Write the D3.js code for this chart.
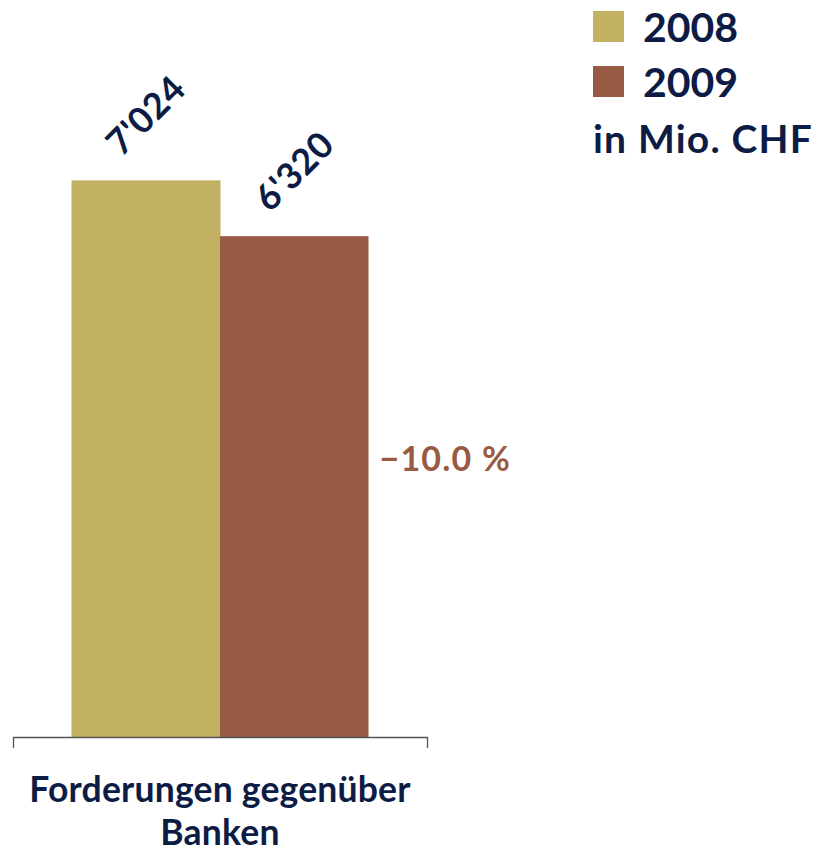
<!DOCTYPE html>
<html>
<head>
<meta charset="utf-8">
<script src="https://cdn.jsdelivr.net/npm/d3@7"></script>
<style>
  html, body { margin: 0; padding: 0; background: #fff; }
  svg { display: block; font-family: Lato, "Open Sans", sans-serif; font-weight: 700; }
</style>
</head>
<body>
<svg id="chart" width="821" height="855"></svg>
<script>
const categories = ["Forderungen gegenüber Banken"];
const categoryLines = [["Forderungen gegenüber", "Banken"]];
const seriesNames = ["2008", "2009"];
const values2008 = [7024];
const values2009 = [6320];
const valueLabels2008 = ["7'024"];
const valueLabels2009 = ["6'320"];
const changeLabels = ["\u221210.0 %"];
const unitLabel = "in Mio. CHF";
const colors = ["#c3b163", "#985a42"];
const navy = "#0c1c45";

const svg = d3.select("#chart");
const baseY = 737;
const x0 = d3.scaleBand().domain(categories).range([13, 427]).paddingInner(0).paddingOuter(0.197);
const x1 = d3.scaleBand().domain(seriesNames).range([0, x0.bandwidth()]).padding(0);
const y = d3.scaleLinear().domain([0, 9300]).range([baseY, 0]);
const color = d3.scaleOrdinal().domain(seriesNames).range(colors);

const seriesValues = [values2008, values2009];
const seriesLabels = [valueLabels2008, valueLabels2009];

categories.forEach((cat, ci) => {
  const g = svg.append("g").attr("transform", `translate(${x0(cat)},0)`);
  seriesNames.forEach((s, si) => {
    const v = seriesValues[si][ci];
    g.append("rect")
      .attr("x", x1(s))
      .attr("y", y(v))
      .attr("width", x1.bandwidth() + (si === 0 ? 0.5 : 0))
      .attr("height", baseY - y(v))
      .attr("fill", color(s));
    const cx = x1(s) + x1.bandwidth() / 2;
    const cy = y(v) - 65;
    g.append("text")
      .attr("transform", `translate(${cx},${cy}) rotate(-45)`)
      .attr("text-anchor", "middle")
      .attr("dy", "0.35em")
      .attr("fill", navy)
      .attr("font-size", 36)
      .attr("letter-spacing", 0.5)
      .text(seriesLabels[si][ci]);
  });
  const midY = (y(values2008[ci]) + baseY) / 2;
  g.append("text")
    .attr("x", x1("2009") + x1.bandwidth() + 11)
    .attr("y", midY)
    .attr("dy", "0.35em")
    .attr("fill", colors[1])
    .attr("font-size", 34)
    .attr("letter-spacing", 1.2)
    .text(changeLabels[ci]);
});

// axis
const axis = d3.axisBottom(x0).tickSize(0).tickSizeOuter(11).tickFormat("");
const axG = svg.append("g").attr("transform", `translate(0,${baseY})`).call(axis);
axG.select(".domain").attr("stroke", "#555").attr("stroke-width", 1.3);
axG.selectAll(".tick line").remove();

// category labels
categories.forEach((cat, ci) => {
  const cx = x0(cat) + x0.bandwidth() / 2;
  const t = svg.append("text")
    .attr("x", cx)
    .attr("y", 802)
    .attr("text-anchor", "middle")
    .attr("fill", navy)
    .attr("font-size", 35.5)
    .attr("letter-spacing", 0.2);
  categoryLines[ci].forEach((ln, li) => {
    t.append("tspan").attr("x", cx).attr("dy", li === 0 ? 0 : 43).text(ln);
  });
});

// legend
const lg = svg.append("g").attr("transform", "translate(593,0)");
seriesNames.forEach((s, i) => {
  const yy = 11 + i * 55;
  lg.append("rect").attr("x", 0).attr("y", yy).attr("width", 31).attr("height", 31).attr("fill", color(s));
  lg.append("text").attr("x", 50).attr("y", yy + 31).attr("fill", navy).attr("font-size", 41).text(s);
});
lg.append("text").attr("x", 0).attr("y", 153).attr("fill", navy).attr("font-size", 39).attr("letter-spacing", 1.2).text(unitLabel);
</script>
</body>
</html>
